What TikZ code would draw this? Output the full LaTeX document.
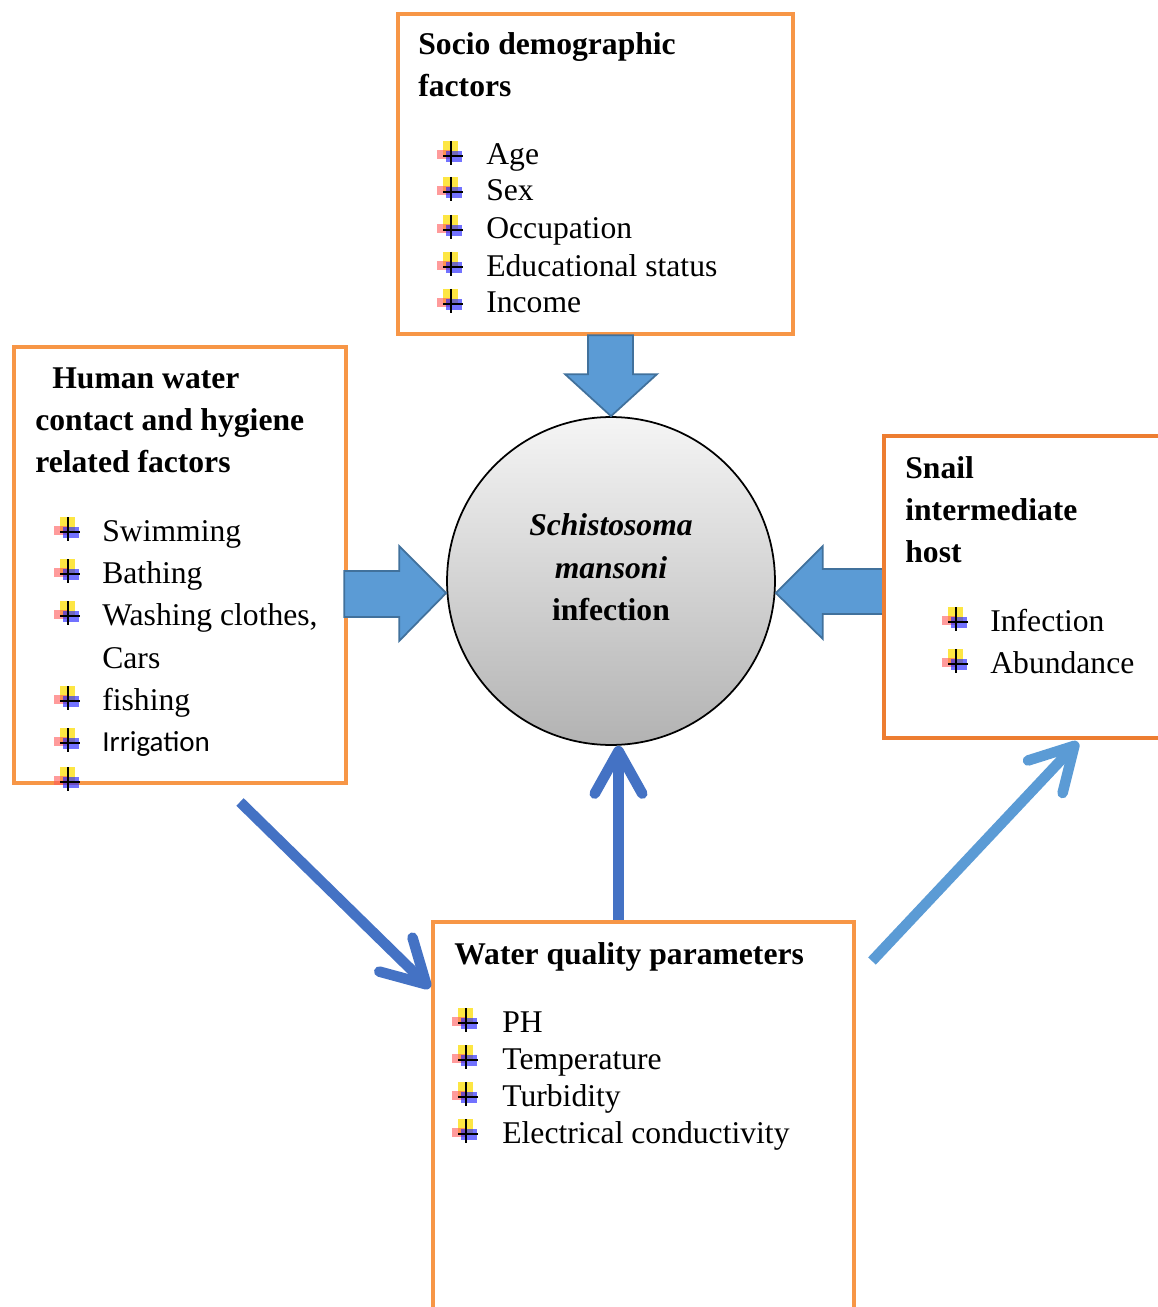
\documentclass[tikz,border=0pt]{standalone}
\usepackage{fontspec}
\setmainfont{Liberation Serif}
\newfontfamily\calibri{Carlito}
\usetikzlibrary{calc,arrows.meta}

\definecolor{boxorange}{HTML}{F79646}
\definecolor{snailorange}{HTML}{ED7D31}
\definecolor{blockblue}{HTML}{5B9BD5}
\definecolor{blockedge}{HTML}{41719C}
\definecolor{linkblue}{HTML}{4472C4}
\definecolor{linklight}{HTML}{5B9BD5}

\tikzset{
  box/.style={draw=boxorange,line width=2.3pt,inner sep=0pt},
  head/.style={anchor=base west,inner sep=0pt,font=\fontsize{18}{21}\selectfont\bfseries},
  item/.style={anchor=base west,inner sep=0pt},
  block/.style={fill=blockblue,draw=blockedge,line width=1pt},
  link/.style={line width=6pt,-{Straight Barb[round,length=0.85cm,width=0.95cm]}},
  bul/.pic={
    \fill[yellow!80!orange,opacity=.75] (-8,-15) rectangle (7,1);
    \fill[red!65,opacity=.6] (-14,-6) rectangle (-1,3);
    \fill[blue!85,opacity=.65] (-5,-5) rectangle (11,6);
    \draw[line width=0.8pt] (0,-15) -- (0,9) (-8,0) -- (12,0);
  }
}

\begin{document}
\begin{tikzpicture}[x=0.02cm,y=-0.02cm,font=\fontsize{18}{21}\selectfont]
\useasboundingbox (0,0) rectangle (1158,1307);

%Boxes

\node[box,minimum width=7.9cm,minimum height=6.4cm] (socio) at (595.5,174) {};
\node[box,minimum width=6.64cm,minimum height=8.72cm] (human) at (180,565) {};
\node[box,minimum width=8.42cm,minimum height=8.16cm] (water) at (643.5,1126) {};

%Centre

\node[circle,draw,line width=1pt,minimum size=6.56cm,
      top color=black!4,bottom color=black!30] (infect) at (611,581) {};
\node[anchor=base,inner sep=0pt,font=\fontsize{18}{21}\selectfont\bfseries\itshape] (schisto) at (611,535) {Schistosoma};
\node[anchor=base,inner sep=0pt,font=\fontsize{18}{21}\selectfont\bfseries\itshape] (mansoni) at (611,578) {mansoni};
\node[anchor=base,inner sep=0pt,font=\fontsize{18}{21}\selectfont\bfseries] (infection) at (611,620) {infection};

%Block arrows

\draw[block] ($(infect.east)+(0,12)$) -- ++(47,-47) -- ++(0,23) -- ++(62,0)
  -- ++(0,45) -- ++(-62,0) -- ++(0,25) -- cycle;
\node[draw=snailorange,line width=2.3pt,inner sep=0pt,minimum width=5.92cm,minimum height=6.04cm] (snail) at (1032,587) {};
\draw[block] (infect.north) -- ++(46,-42) -- ++(-24,0) -- ++(0,-39)
  -- ++(-45,0) -- ++(0,39) -- ++(-23,0) -- cycle;
\draw[block] ($(infect.west)+(0,12)$) -- ++(-47,-47) -- ++(0,25) -- ++(-55,0)
  -- ++(0,46) -- ++(55,0) -- ++(0,24) -- cycle;

%Links

\coordinate (h2w) at ($(human.south)+(60,17)$);
\coordinate (w2h) at ($(water.north west)+(-1,68)$);
\draw[link,linkblue] (h2w) -- (w2h);
\coordinate (w2i) at ($(water.north)+(-25,0)$);
\draw[link,linkblue] (w2i) -- (w2i |- infect.south);
\coordinate (w2s) at ($(water.north east)+(16,41)$);
\coordinate (s2w) at ($(snail.south west)+(196,2)$);
\draw[link,linklight] (w2s) -- (s2w);

%Socio demographic

\node[head] (socio1) at (418,55) {Socio demographic};
\node[head] (socio2) at (418,97) {factors};
\pic at (451,156) {bul};
\node[item] (age) at (486,165) {Age};
\pic at (451,192) {bul};
\node[item] (sex) at (486,201) {Sex};
\pic at (451,230) {bul};
\node[item] (occup) at (486,239) {Occupation};
\pic at (451,267) {bul};
\node[item] (educ) at (486,276) {Educational status};
\pic at (451,304) {bul};
\node[item] (income) at (486,313) {Income};

%Human water contact

\node[head] (human1) at (52,388) {Human water};
\node[head] (human2) at (35,430) {contact and hygiene};
\node[head] (human3) at (35,472) {related factors};
\pic at (68,532) {bul};
\node[item] (swim) at (102,541) {Swimming};
\pic at (68,574) {bul};
\node[item] (bath) at (102,583) {Bathing};
\pic at (68,616) {bul};
\node[item] (wash) at (102,625) {Washing clothes,};
\node[item] (cars) at (102,668) {Cars};
\pic at (68,701) {bul};
\node[item] (fish) at (102,710) {fishing};
\pic at (68,743) {bul};
\node[item,font=\calibri\fontsize{16.5}{20}\selectfont] (irrig) at (102,751) {Irrigation};
\pic at (68,782) {bul};

%Snail

\node[head] (snail1) at (905,478) {Snail};
\node[head] (snail2) at (905,520) {intermediate};
\node[head] (snail3) at (905,562) {host};
\pic at (956,622) {bul};
\node[item] (sinf) at (990,631) {Infection};
\pic at (956,664) {bul};
\node[item] (abund) at (990,673) {Abundance};

%Water quality

\node[head] (water1) at (454,964) {Water quality parameters};
\pic at (466,1023) {bul};
\node[item] (ph) at (502,1032) {PH};
\pic at (466,1060) {bul};
\node[item] (temp) at (502,1069) {Temperature};
\pic at (466,1097) {bul};
\node[item] (turb) at (502,1106) {Turbidity};
\pic at (466,1134) {bul};
\node[item] (cond) at (502,1143) {Electrical conductivity};

\end{tikzpicture}
\end{document}
